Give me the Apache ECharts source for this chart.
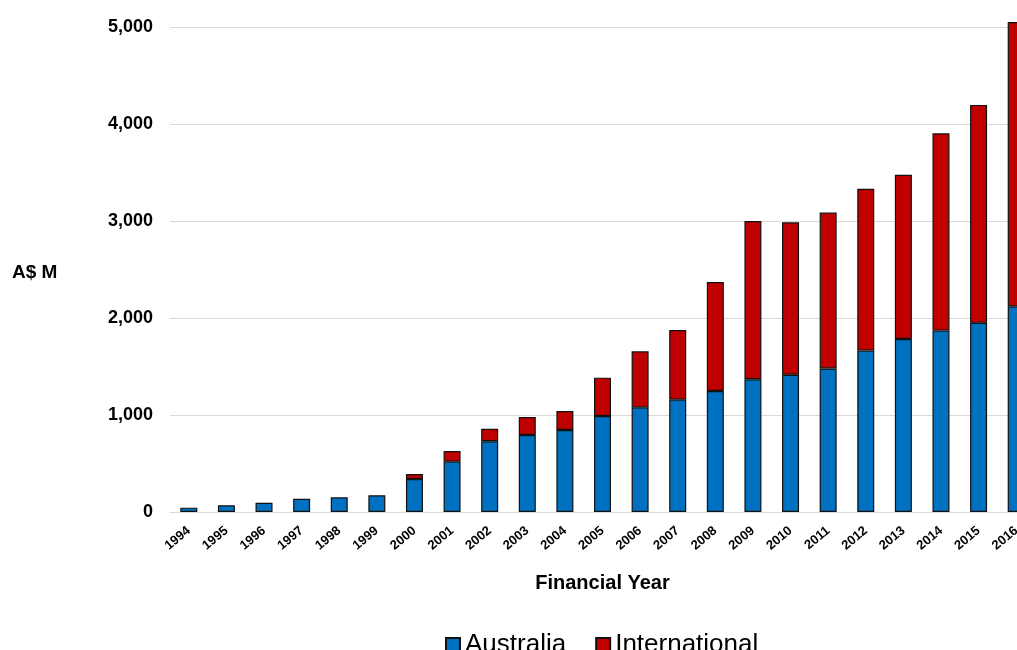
<!DOCTYPE html>
<html>
<head>
<meta charset="utf-8">
<script src="https://cdn.jsdelivr.net/npm/echarts@6/dist/echarts.min.js"></script>
<style>
  html, body { margin: 0; padding: 0; background: #fff; }
  #chart { width: 1017px; height: 650px; }
</style>
</head>
<body>
<div id="chart"></div>
<script>
const years = ['1994', '1995', '1996', '1997', '1998', '1999', '2000', '2001', '2002', '2003', '2004', '2005',
  '2006', '2007', '2008', '2009', '2010', '2011', '2012', '2013', '2014', '2015', '2016'];
const australia = [45, 69, 96, 137, 151, 172, 340, 519, 729, 794, 845, 990,
  1079, 1158, 1247, 1368, 1415, 1480, 1664, 1784, 1870, 1950, 2120];
const international = [0, 0, 0, 0, 0, 0, 52, 110, 130, 185, 196, 395,
  577, 718, 1124, 1632, 1571, 1607, 1668, 1693, 2034, 2247, 2931];
const yTicks = [0, 1000, 2000, 3000, 4000, 5000];

const font = 'Liberation Sans, Arial, sans-serif';
const chart = echarts.init(document.getElementById('chart'));

chart.setOption({
  animation: false,
  // plot runs past the right edge, the 2016 bar is cut off like in the original
  grid: { left: 170, top: 27, width: 865, height: 485, containLabel: false, outerBoundsMode: 'none' },
  legend: {
    left: 445,
    top: 632,
    padding: 0,
    itemWidth: 14,
    itemHeight: 14,
    itemGap: 29,
    icon: 'rect',
    textStyle: { fontFamily: font, fontSize: 26, color: '#000' },
    data: ['Australia', 'International']
  },
  graphic: [{
    type: 'text',
    left: 12,
    top: 263,
    style: { text: 'A$ M', font: 'bold 19px ' + font, fill: '#000' }
  }],
  xAxis: {
    type: 'category',
    data: years,
    name: 'Financial Year',
    nameLocation: 'middle',
    nameGap: 61,
    nameTextStyle: { fontFamily: font, fontSize: 20, fontWeight: 'bold', color: '#000' },
    axisLine: { lineStyle: { color: '#d9d9d9' } },
    axisTick: { show: false },
    axisLabel: { rotate: 40, interval: 0, margin: 17, fontFamily: font, fontSize: 13, fontWeight: 'bold', color: '#000' }
  },
  yAxis: {
    type: 'value',
    min: yTicks[0],
    max: yTicks[yTicks.length - 1],
    interval: 1000,
    axisLine: { show: false },
    axisTick: { show: false },
    splitLine: { lineStyle: { color: '#d9d9d9' } },
    axisLabel: {
      margin: 17,
      fontFamily: font,
      fontSize: 18,
      fontWeight: 'bold',
      color: '#000',
      formatter: v => v.toLocaleString('en-US')
    }
  },
  series: [
    {
      name: 'Australia',
      type: 'bar',
      stack: 'total',
      barWidth: 17,
      clip: false,
      data: australia,
      itemStyle: { color: '#0070c0', borderColor: '#111', borderWidth: 1.2 }
    },
    {
      name: 'International',
      type: 'bar',
      stack: 'total',
      barWidth: 17,
      clip: false,
      data: international.map(v => v === 0 ? null : v),
      itemStyle: { color: '#c00000', borderColor: '#111', borderWidth: 1.2 }
    }
  ]
});
</script>
</body>
</html>
